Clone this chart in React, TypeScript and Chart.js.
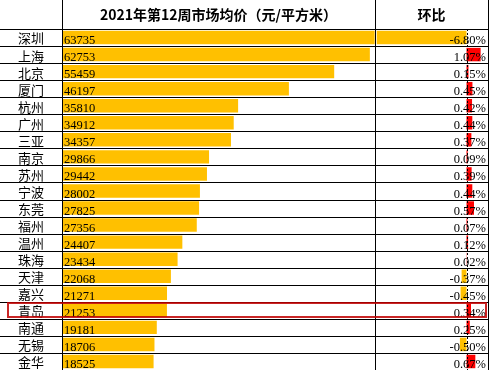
import React, { useEffect, useRef } from "react";
import { Chart, registerables } from "chart.js";

Chart.register(...registerables);

const cities = ["深圳", "上海", "北京", "厦门", "杭州", "广州", "三亚", "南京", "苏州", "宁波", "东莞", "福州", "温州", "珠海", "天津", "嘉兴", "青岛", "南通", "无锡", "金华"];
const prices = [63735, 62753, 55459, 46197, 35810, 34912, 34357, 29866, 29442, 28002, 27825, 27356, 24407, 23434, 22068, 21271, 21253, 19181, 18706, 18525];
const changes = [-6.8, 1.07, 0.15, 0.45, 0.42, 0.44, 0.37, 0.09, 0.39, 0.44, 0.57, 0.07, 0.12, 0.02, -0.37, -0.45, 0.34, 0.25, -0.5, 0.67];
const headerPrice = "2021年第12周市场均价（元/平方米）";
const headerChange = "环比";
const highlightCity = "青岛";

const YELLOW = "#FFC000";
const RED = "#FF0000";
const W = 490;
const H = 370;
const HEADER_H = 29;
const LABEL_W = 62;
const PRICE_COL_RIGHT = 375;
const TABLE_RIGHT = 488;

const tablePlugin = {
  id: "tablePlugin",
  afterDatasetsDraw(chart: any) {
    const ctx = chart.ctx;
    const area = chart.chartArea;
    const y = chart.scales.y;
    const x2 = chart.scales.x2;
    const n = cities.length;
    const rowH = (area.bottom - area.top) / n;
    ctx.save();

    // dashed zero axis for change column
    const zx = Math.round(x2.getPixelForValue(0)) + 0.5;
    ctx.strokeStyle = "#000";
    ctx.lineWidth = 1;
    ctx.setLineDash([2, 2]);
    ctx.beginPath();
    ctx.moveTo(zx, area.top);
    ctx.lineTo(zx, H);
    ctx.stroke();
    ctx.setLineDash([]);

    // grid lines
    ctx.strokeStyle = "#000";
    ctx.lineWidth = 1;
    ctx.beginPath();
    for (let i = 0; i <= n; i++) {
      const yy = Math.round(area.top + i * rowH) + 0.5;
      ctx.moveTo(0, yy);
      ctx.lineTo(TABLE_RIGHT + 1, yy);
    }
    [LABEL_W, PRICE_COL_RIGHT, TABLE_RIGHT].forEach((xx) => {
      ctx.moveTo(xx + 0.5, 0);
      ctx.lineTo(xx + 0.5, H);
    });
    ctx.stroke();

    // headers
    ctx.fillStyle = "#000";
    ctx.textAlign = "center";
    ctx.textBaseline = "middle";
    ctx.font = 'bold 14px "Noto Sans CJK SC"';
    ctx.fillText(headerPrice, (LABEL_W + PRICE_COL_RIGHT) / 2, HEADER_H / 2);
    ctx.fillText(headerChange, (PRICE_COL_RIGHT + TABLE_RIGHT) / 2, HEADER_H / 2);

    // category labels
    ctx.font = '13px "Noto Sans CJK SC"';
    ctx.textAlign = "center";
    ctx.textBaseline = "middle";
    for (let i = 0; i < n; i++) {
      ctx.fillText(cities[i], LABEL_W / 2, y.getPixelForValue(i) + 1);
    }

    // values
    ctx.font = '12.5px "Liberation Serif"';
    ctx.textBaseline = "alphabetic";
    for (let i = 0; i < n; i++) {
      const cy = y.getPixelForValue(i);
      const base = cy + rowH / 2 - 2;
      ctx.textAlign = "left";
      ctx.fillText(String(prices[i]), area.left + 2, base);
      ctx.textAlign = "right";
      ctx.fillText(changes[i].toFixed(2) + "%", TABLE_RIGHT - 2, base);
    }

    // highlight box
    const hi = cities.indexOf(highlightCity);
    if (hi >= 0) {
      const cy = y.getPixelForValue(hi);
      ctx.strokeStyle = "rgba(192,0,0,0.85)";
      ctx.lineWidth = 2;
      ctx.strokeRect(8, Math.round(cy - rowH / 2) + 1, TABLE_RIGHT - 10, Math.round(rowH) - 3);
    }
    ctx.restore();
  },
};

export default function App() {
  const ref = useRef<HTMLCanvasElement>(null);
  useEffect(() => {
    document.body.style.margin = "0";
    const canvas = ref.current!;
    const pxPerPrice = 0.00489;
    const priceZero = LABEL_W + 1;
    const pxPerPct = 13.2;
    const pctZero = 466.5;
    const chart = new Chart(canvas, {
      type: "bar",
      data: {
        labels: cities,
        datasets: [
          {
            data: prices,
            xAxisID: "x",
            backgroundColor: YELLOW,
            grouped: false,
            categoryPercentage: 1,
            barPercentage: 0.79,
          } as any,
          {
            data: changes,
            xAxisID: "x2",
            backgroundColor: changes.map((v) => (v < 0 ? YELLOW : RED)),
            grouped: false,
            categoryPercentage: 1,
            barPercentage: 0.79,
          } as any,
        ],
      },
      options: {
        indexAxis: "y",
        responsive: false,
        devicePixelRatio: 1,
        animation: false,
        layout: { padding: { top: HEADER_H, left: 0, right: 0, bottom: 0 } },
        plugins: { legend: { display: false }, tooltip: { enabled: false } },
        scales: {
          y: {
            type: "category",
            grid: { display: false },
            border: { display: false },
            ticks: { display: false, autoSkip: false },
            afterFit: (s: any) => {
              s.width = LABEL_W;
            },
          },
          x: {
            type: "linear",
            display: false,
            min: -(priceZero - LABEL_W) / pxPerPrice,
            max: (W - priceZero) / pxPerPrice,
          },
          x2: {
            type: "linear",
            display: false,
            min: -(pctZero - LABEL_W) / pxPerPct,
            max: (W - pctZero) / pxPerPct,
          },
        },
      } as any,
      plugins: [tablePlugin],
    });
    return () => chart.destroy();
  }, []);
  return <canvas ref={ref} width={W} height={H} style={{ display: "block" }} />;
}
